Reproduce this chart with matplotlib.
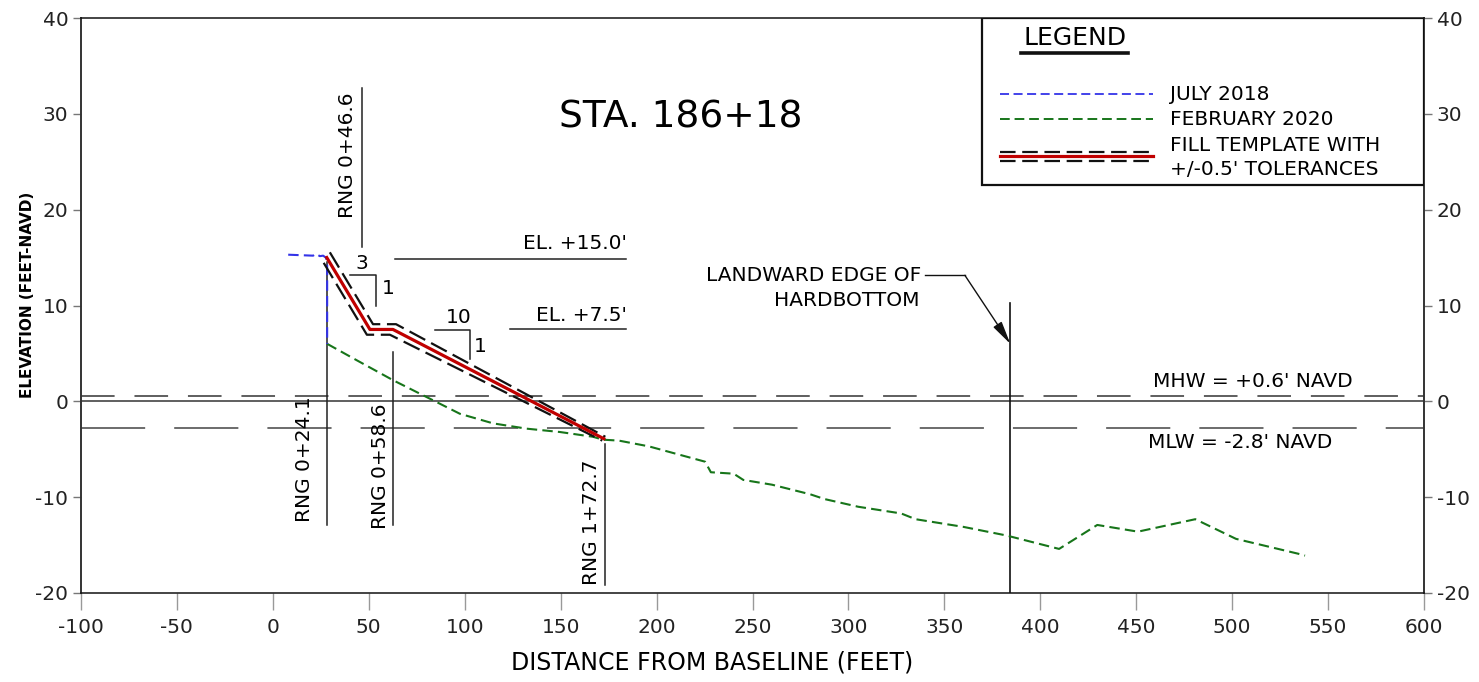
import matplotlib
matplotlib.use("Agg")
import matplotlib.pyplot as plt
from matplotlib.patches import Rectangle

plt.rcParams['font.family'] = 'DejaVu Sans'
plt.rcParams['axes.unicode_minus'] = False

# survey profiles (distance ft, elevation ft NAVD)
july_2018_x = [8.0, 21.0, 22.4, 24.5, 26.2, 27.6, 28.3, 28.3]
july_2018_y = [15.3, 15.2, 15.4, 15.15, 15.2, 15.0, 14.5, 6.0]

feb_2020_x = [28.3, 43.6, 62.7, 80.1, 97.5, 114.8, 132.2, 149.6, 166.9, 172.0,
              180.4, 196.0, 225.3, 228.3, 240.2, 245.2, 260.2, 280.1, 287.6,
              305.1, 327.5, 335.0, 359.9, 382.4, 409.8, 429.7, 450.9, 480.8,
              502.0, 534.4, 538.0]
feb_2020_y = [6.0, 4.3, 2.2, 0.45, -1.3, -2.3, -2.85, -3.2, -3.7, -4.0,
              -4.1, -4.7, -6.3, -7.4, -7.55, -8.2, -8.7, -9.7, -10.2,
              -11.0, -11.7, -12.3, -13.1, -14.0, -15.4, -12.9, -13.6, -12.3,
              -14.35, -15.9, -16.1]

# fill template: 3:1 slope, berm at +7.5, 10:1 slope to toe
template_x = [28.1, 50.6, 62.6, 172.5]
template_y = [15.0, 7.5, 7.5, -3.9]
tolerance = 0.5

mhw = 0.6
mlw = -2.8
hardbottom_x = 384.4

# range markers: label, x, line bottom, line top
rng_labels = ["RNG 0+24.1", "RNG 0+46.6", "RNG 0+58.6", "RNG 1+72.7"]
rng_x = [28.0, 46.4, 62.5, 173.0]
rng_y0 = [-12.9, 16.1, -12.9, -19.2]
rng_y1 = [14.5, 32.7, 5.1, -4.4]

x_ticks = list(range(-100, 601, 50))
y_ticks = list(range(-20, 41, 10))

fig = plt.figure(figsize=(14.79, 6.82), dpi=100)
ax = fig.add_axes([81 / 1479, 89 / 682, 1343 / 1479, 575 / 682])
ax.set_xlim(-100, 600)
ax.set_ylim(-20, 40)

# water levels
ax.axhline(0, color='#444444', lw=1.2, zorder=1)
ax.axhline(mhw, color='#333333', lw=1.1, dashes=(22, 13), zorder=1)
ax.axhline(mlw, color='#444444', lw=1.1, dashes=(42, 19), zorder=1)
ax.text(459, 2.1, "MHW = +0.6' NAVD", fontsize=14.5, va='center', ha='left')
ax.text(456, -4.3, "MLW = -2.8' NAVD", fontsize=14.5, va='center', ha='left')

# range markers
for lab, x, y0, y1 in zip(rng_labels, rng_x, rng_y0, rng_y1):
    ax.plot([x, x], [y0, y1], color='#222222', lw=1.1, zorder=2)
ax.text(16.7, -12.6, rng_labels[0], rotation=90, fontsize=14.5, ha='center', va='bottom')
ax.text(39.1, 32.2, rng_labels[1], rotation=90, fontsize=14.5, ha='center', va='top')
ax.text(56.3, -13.3, rng_labels[2], rotation=90, fontsize=14.5, ha='center', va='bottom')
ax.text(166.3, -19.2, rng_labels[3], rotation=90, fontsize=14.5, ha='center', va='bottom')

# elevation callouts
ax.plot([63.6, 184.3], [14.9, 14.9], color='#222222', lw=1.1)
ax.text(184.3, 15.5, "EL. +15.0'", fontsize=14.5, ha='right', va='bottom')
ax.plot([123.5, 184.3], [7.5, 7.5], color='#222222', lw=1.1)
ax.text(184.3, 8.0, "EL. +7.5'", fontsize=14.5, ha='right', va='bottom')

# slope indicators
ax.plot([40.1, 54.0, 54.0], [13.15, 13.15, 10.0], color='#222222', lw=1.1)
ax.text(46.2, 14.4, "3", fontsize=14.5, ha='center', va='center')
ax.text(60.1, 11.8, "1", fontsize=14.5, ha='center', va='center')
ax.plot([84.4, 102.7, 102.7], [7.48, 7.48, 4.46], color='#222222', lw=1.1)
ax.text(97.1, 8.7, "10", fontsize=14.5, ha='center', va='center')
ax.text(107.9, 5.7, "1", fontsize=14.5, ha='center', va='center')

# profiles
ax.plot(feb_2020_x, feb_2020_y, color='#17751a', lw=1.5, dashes=(5, 2.5), zorder=3)
ax.plot(july_2018_x, july_2018_y, color='#3434e8', lw=1.5, dashes=(5, 2.5), zorder=4)

# template with tolerance lines
upper_x = [x + 1.6 for x in template_x[:-1]] + [template_x[-1] + 0.8]
upper_y = [y + tolerance + 0.05 for y in template_y[:-1]] + [template_y[-1] + 0.2]
lower_x = [x - 1.6 for x in template_x[:-1]] + [template_x[-1] - 0.8]
lower_y = [y - tolerance - 0.05 for y in template_y[:-1]] + [template_y[-1] - 0.2]
ax.plot(upper_x, upper_y, color='#111111', lw=1.6, dashes=(8, 3), zorder=5)
ax.plot(lower_x, lower_y, color='#111111', lw=1.6, dashes=(8, 3), zorder=5)
ax.plot(template_x, template_y, color='#c00000', lw=2.3, zorder=6)

# hardbottom edge
ax.plot([hardbottom_x, hardbottom_x], [-20, 10.3], color='#111111', lw=1.2, zorder=2)
ax.plot([339.8, 360.7], [13.15, 13.15], color='#111111', lw=1.0)
ax.annotate("", xy=(hardbottom_x, 6.0), xytext=(360.7, 13.15),
            arrowprops=dict(arrowstyle='-|>,head_length=1.4,head_width=0.3',
                            color='#111111', lw=1.0, shrinkA=0, shrinkB=0),
            zorder=6)
ax.text(338, 13.15, "LANDWARD EDGE OF", fontsize=14.5, ha='right', va='center')
ax.text(337, 10.5, "HARDBOTTOM", fontsize=14.5, ha='right', va='center')

ax.text(212.7, 29.6, "STA. 186+18", fontsize=27, ha='center', va='center')

# legend box
ax.add_patch(Rectangle((0.6707, 0.7096), 0.3293, 0.2904, transform=ax.transAxes,
                       fill=False, edgecolor='#111111', lw=1.6, zorder=7))
ax.text(0.740, 0.966, "LEGEND", transform=ax.transAxes, fontsize=18,
        ha='center', va='center')
ax.plot([0.6999, 0.7798], [0.9397, 0.9397], transform=ax.transAxes,
        color='#111111', lw=2.6)
ax.plot([0.6843, 0.7982], [0.8673, 0.8673], transform=ax.transAxes,
        color='#3434e8', lw=1.3, dashes=(5, 2.5))
ax.plot([0.6843, 0.7982], [0.8243, 0.8243], transform=ax.transAxes,
        color='#17751a', lw=1.4, dashes=(5, 2.5))
ax.plot([0.6843, 0.7982], [0.7675, 0.7675], transform=ax.transAxes,
        color='#111111', lw=1.6, dashes=(7, 3))
ax.plot([0.6843, 0.7982], [0.7518, 0.7518], transform=ax.transAxes,
        color='#111111', lw=1.6, dashes=(7, 3))
ax.plot([0.6843, 0.7982], [0.7600, 0.7600], transform=ax.transAxes,
        color='#c00000', lw=2.3)
ax.text(0.8109, 0.8673, "JULY 2018", transform=ax.transAxes, fontsize=14.5, va='center')
ax.text(0.8109, 0.8243, "FEBRUARY 2020", transform=ax.transAxes, fontsize=14.5, va='center')
ax.text(0.8109, 0.7791, "FILL TEMPLATE WITH", transform=ax.transAxes, fontsize=14.5, va='center')
ax.text(0.8109, 0.7357, "+/-0.5' TOLERANCES", transform=ax.transAxes, fontsize=14.5, va='center')

# axes frame and ticks
ax.set_xticks(x_ticks)
ax.set_yticks(y_ticks)
for side in ['left', 'right']:
    ax.spines[side].set_color('#333333')
    ax.spines[side].set_linewidth(1.4)
for side in ['top', 'bottom']:
    ax.spines[side].set_color('#111111')
    ax.spines[side].set_linewidth(1.1)
ax.tick_params(axis='y', which='both', left=True, right=True, labelleft=True,
               labelright=True, direction='out', length=6, width=1,
               color='#777777', labelsize=14.5, labelcolor='#222222', pad=3)
ax.tick_params(axis='x', direction='out', length=12, width=1, color='#999999',
               labelsize=14.5, labelcolor='#222222', pad=6)

ax.set_xlabel("DISTANCE FROM BASELINE (FEET)", fontsize=17)
ax.xaxis.set_label_coords(0.470, -0.1217)
ax.xaxis.label.set_va('center')
ax.set_ylabel("ELEVATION (FEET-NAVD)", fontsize=11, fontweight='semibold')
ax.yaxis.set_label_coords(-0.0402, 0.518)
ax.yaxis.label.set_va('center')

fig.savefig("out.png", dpi=100)
